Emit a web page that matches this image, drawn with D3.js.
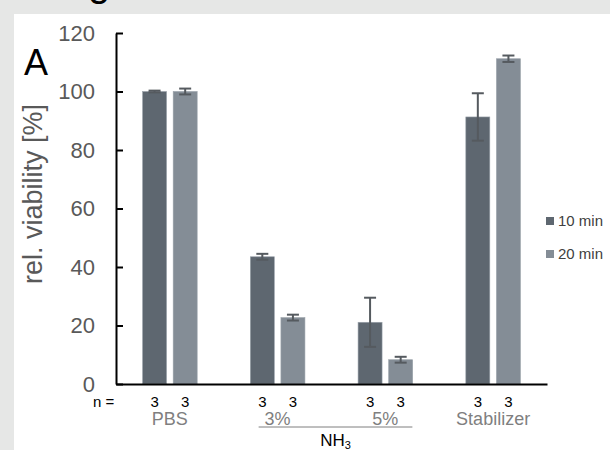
<!DOCTYPE html>
<html>
<head>
<meta charset="utf-8">
<script src="https://cdn.jsdelivr.net/npm/d3@7"></script>
<style>
  body { margin: 0; background: #e6e7e6; }
  svg { display: block; font-family: Arial, "Liberation Sans", sans-serif; }
</style>
</head>
<body>
<svg id="chart" width="610" height="450"></svg>
<script>
// data
var groups = ["PBS", "3%", "5%", "Stabilizer"];
var series = ["10 min", "20 min"];
var means10 = [100, 43.5, 21.1, 91.3];
var means20 = [100, 22.7, 8.3, 111.2];
var err10 = [0.3, 1.0, 8.4, 8.1];
var err20 = [1.0, 1.0, 1.0, 1.1];
var nCounts = [[3, 3], [3, 3], [3, 3], [3, 3]];
var yTicks = [0, 20, 40, 60, 80, 100, 120];
var colors = ["#5e6770", "#848d96"];

var svg = d3.select("#chart");

// white panel on the grey page
svg.append("rect")
  .attr("x", 14).attr("y", 14)
  .attr("width", 596).attr("height", 436)
  .attr("fill", "#ffffff");

// bottom of a glyph from the figure above, cut off
svg.append("text")
  .attr("x", 99).attr("y", -4)
  .attr("text-anchor", "middle")
  .attr("font-size", 40)
  .attr("fill", "#000")
  .text("g");

var x = d3.scaleBand().domain(groups).range([116, 547]);
var xSub = d3.scaleBand().domain(series).range([-27.3, 27.3]).paddingInner(0.216);
var y = d3.scaleLinear().domain([0, 120]).range([384, 33]);

var data = [];
groups.forEach(function(g, i) {
  data.push({ group: g, s: series[0], v: means10[i], e: err10[i], c: colors[0] });
  data.push({ group: g, s: series[1], v: means20[i], e: err20[i], c: colors[1] });
});

function barX(d) { return x(d.group) + x.bandwidth() / 2 + xSub(d.s); }
function midX(g) { return x(g) + x.bandwidth() / 2; }

// bars
svg.selectAll("rect.bar")
  .data(data)
  .enter()
  .append("rect")
  .attr("class", "bar")
  .attr("x", barX)
  .attr("y", d => y(d.v))
  .attr("width", xSub.bandwidth())
  .attr("height", d => y(0) - y(d.v))
  .attr("fill", d => d.c)
  .attr("stroke", "#9aa2aa")
  .attr("stroke-width", 0.6);

// error bars
var eb = svg.selectAll("g.err")
  .data(data)
  .enter()
  .append("g")
  .attr("class", "err")
  .attr("stroke", "#555a5f")
  .attr("stroke-width", 2);

eb.append("line")
  .attr("x1", d => barX(d) + xSub.bandwidth() / 2)
  .attr("x2", d => barX(d) + xSub.bandwidth() / 2)
  .attr("y1", d => y(d.v + d.e))
  .attr("y2", d => y(d.v - d.e));
eb.append("line")
  .attr("x1", d => barX(d) + xSub.bandwidth() / 2 - 6)
  .attr("x2", d => barX(d) + xSub.bandwidth() / 2 + 6)
  .attr("y1", d => y(d.v + d.e))
  .attr("y2", d => y(d.v + d.e));
eb.append("line")
  .attr("x1", d => barX(d) + xSub.bandwidth() / 2 - 6)
  .attr("x2", d => barX(d) + xSub.bandwidth() / 2 + 6)
  .attr("y1", d => y(d.v - d.e))
  .attr("y2", d => y(d.v - d.e));

// y axis
var yAxis = d3.axisLeft(y)
  .tickValues(yTicks)
  .tickSizeInner(-7)
  .tickSizeOuter(0)
  .tickPadding(21);

var yG = svg.append("g")
  .attr("transform", "translate(116,0)")
  .call(yAxis);
yG.select(".domain").attr("stroke", "#000").attr("stroke-width", 2);
yG.selectAll(".tick line").attr("stroke", "#000").attr("stroke-width", 2);
yG.selectAll(".tick text")
  .attr("font-size", 22)
  .attr("font-family", "Arial, 'Liberation Sans', sans-serif")
  .attr("fill", "#595959");

// x axis line
var xG = svg.append("g")
  .attr("transform", "translate(0,384)")
  .call(d3.axisBottom(x).tickSize(0).tickFormat(""));
xG.select(".domain").attr("stroke", "#000").attr("stroke-width", 2);

// y label
svg.append("text")
  .attr("transform", "translate(42,194) rotate(-90)")
  .attr("text-anchor", "middle")
  .attr("font-size", 27)
  .attr("fill", "#595959")
  .text("rel. viability [%]");

// panel letter
svg.append("text")
  .attr("x", 24).attr("y", 75)
  .attr("font-size", 36)
  .attr("fill", "#000")
  .text("A");

// n row
svg.append("text")
  .attr("x", 93).attr("y", 407)
  .attr("font-size", 15)
  .attr("fill", "#000")
  .text("n =");

svg.selectAll("text.n")
  .data(data)
  .enter()
  .append("text")
  .attr("class", "n")
  .attr("x", d => barX(d) + xSub.bandwidth() / 2)
  .attr("y", 407)
  .attr("text-anchor", "middle")
  .attr("font-size", 15)
  .attr("fill", "#000")
  .text(d => nCounts[groups.indexOf(d.group)][series.indexOf(d.s)]);

// category labels
svg.selectAll("text.cat")
  .data(groups)
  .enter()
  .append("text")
  .attr("class", "cat")
  .attr("x", midX)
  .attr("y", 425)
  .attr("text-anchor", "middle")
  .attr("font-size", 18)
  .attr("fill", "#7f7f7f")
  .text(d => d);

// NH3 line under 3% and 5%
svg.append("line")
  .attr("x1", midX("3%") - 19).attr("x2", midX("5%") + 27)
  .attr("y1", 427).attr("y2", 427)
  .attr("stroke", "#7f7f7f")
  .attr("stroke-width", 1);

var nh = svg.append("text")
  .attr("x", (midX("3%") + midX("5%")) / 2 + 4)
  .attr("y", 446)
  .attr("text-anchor", "middle")
  .attr("font-size", 17)
  .attr("fill", "#000");
nh.append("tspan").text("NH");
nh.append("tspan").attr("font-size", 11).attr("dy", 3).text("3");

// legend
var leg = svg.selectAll("g.leg")
  .data(series)
  .enter()
  .append("g")
  .attr("class", "leg")
  .attr("transform", (d, i) => `translate(546,${217 + i * 33})`);
leg.append("rect")
  .attr("width", 8).attr("height", 8)
  .attr("fill", (d, i) => colors[i]);
leg.append("text")
  .attr("x", 12).attr("y", 9)
  .attr("font-size", 15)
  .attr("fill", "#404040")
  .text(d => d);
</script>
</body>
</html>
